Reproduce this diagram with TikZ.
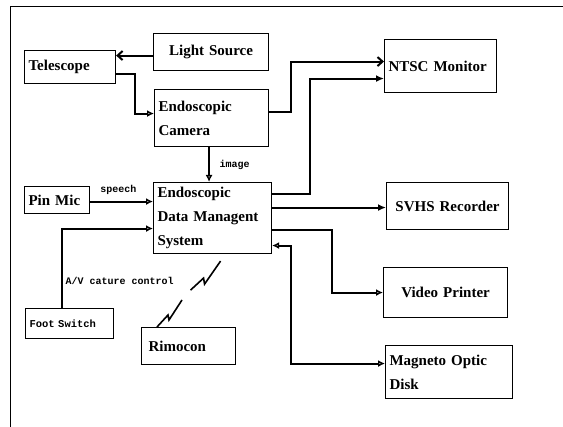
\documentclass[tikz,border=0pt]{standalone}
\usepackage{fontspec}
\setmainfont{Liberation Serif}
\setmonofont{Liberation Mono}
\usetikzlibrary{arrows.meta}
\tikzstyle{block} = [rectangle, draw, line width=1.1pt, anchor=north west, align=left, inner xsep=4pt, inner ysep=0pt, font=\bfseries\fontsize{15}{24}\selectfont]
\tikzstyle{small} = [font=\ttfamily\bfseries\fontsize{10.5}{13}\selectfont]
\tikzstyle{link} = [line width=2pt]
\tikzstyle{tag} = [font=\ttfamily\bfseries\fontsize{10}{12}\selectfont, inner sep=1.5pt]
\tikzstyle{openhead} = [-{Latex[open,length=7pt,width=7pt]}]
\tikzstyle{fullhead} = [-{Latex[length=8pt,width=7pt]}]
\tikzstyle{barbhead} = [-{Straight Barb[length=5pt,width=9pt]}]

\begin{document}
\begin{tikzpicture}[x=1pt,y=-1pt]
  \useasboundingbox (0,0) rectangle (563,427);
  \draw[line width=1pt] (10,427) -- (10,7) -- (563,7);

  \node[block, text width=107pt, minimum height=37pt, align=center] (light) at (153,33) {Light Source};
  \node[block, text width=83pt, minimum height=33pt] (tele) at (24,50) {Telescope};
  \node[block, text width=106pt, minimum height=57pt] (cam) at (154,89) {Endoscopic\\Camera};
  \node[block, text width=110pt, minimum height=71pt] (edms) at (153,182) {Endoscopic\\Data Managent\\System};
  \node[block, text width=57pt, minimum height=27pt] (pin) at (24,186) {Pin Mic};
  \node[block, small, text width=80pt, minimum height=30pt] (foot) at (25,308) {Foot Switch};
  \node[block, text width=80pt, minimum height=37pt, inner xsep=7pt] (rimo) at (141,327) {Rimocon};
  \node[block, text width=104pt, minimum height=53pt] (ntsc) at (384,39) {NTSC Monitor};
  \node[block, text width=114pt, minimum height=47pt, align=center] (svhs) at (386,182) {SVHS Recorder};
  \node[block, text width=116pt, minimum height=50pt, align=center] (vprn) at (383,267) {Video Printer};
  \node[block, text width=119pt, minimum height=53pt] (mod) at (385,345) {Magneto Optic\\Disk};

  % light and camera path
  \draw[link, barbhead] ([yshift=-3.5pt]light.west) -- ([yshift=-3.5pt]light.west -| tele.east);
  \draw[link, openhead] ([yshift=-6.5pt]tele.east) -- ++(19,0) |- ([yshift=4.5pt]cam.west);
  \draw[link, barbhead] ([yshift=6.5pt]cam.east) -- ++(22,0) |- ([yshift=4.5pt]ntsc.west);
  \draw[link, openhead] ([xshift=-2.5pt]cam.south) -- ([xshift=-2.5pt]cam.south |- edms.north)
    node[tag, midway, right=8pt] {image};

  % inputs
  \draw[link, openhead] ([yshift=-1.5pt]pin.east) -- ([yshift=-1.5pt]pin.east -| edms.west)
    node[tag, pos=0.45, above=4pt] {speech};
  \draw[link, openhead] ([xshift=-7.5pt]foot.north) |- ([yshift=-10.5pt]edms.west)
    node[tag, pos=0.17, right=1pt] {A/V cature control};

  % outputs
  \draw[link, fullhead] ([yshift=24.5pt]edms.east) -- ++(38,0) |- ([yshift=-12.5pt]ntsc.west);
  \draw[link, fullhead] ([yshift=10.5pt]edms.east) -- ([yshift=10.5pt]edms.east -| svhs.west);
  \draw[link, openhead] ([yshift=-11.5pt]edms.east) -- ++(60,0) |- (vprn.west);
  \draw[link, {Latex[open,length=7pt,width=7pt]}-{Latex[open,length=7pt,width=7pt]}]
    ([yshift=-27.5pt]edms.east) -- ++(19,0) |- ([yshift=8.5pt]mod.west);

  % remote control link
  \draw[line width=1.6pt] ([xshift=16pt]rimo.north west) -- ++(11,-12) -- ++(1,5) -- ++(13,-20);
  \draw[line width=1.6pt] ([xshift=8pt,yshift=-7pt]edms.south) -- ++(-16,23) -- ++(-1,-6) -- ++(-13,12);
\end{tikzpicture}
\end{document}
